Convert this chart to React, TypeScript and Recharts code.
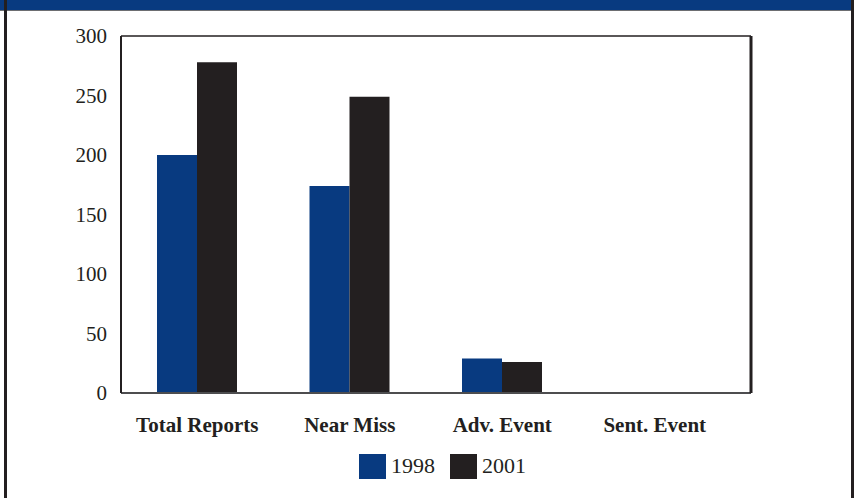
import React from "react";
import { BarChart, Bar, XAxis, YAxis, CartesianGrid, Legend } from "recharts";

const categories = ["Total Reports", "Near Miss", "Adv. Event", "Sent. Event"];
const series1998 = [200, 174, 29, 0];
const series2001 = [278, 249, 26, 0];
const yTicks = [0, 50, 100, 150, 200, 250, 300];
const seriesNames = ["1998", "2001"];
const seriesColors = ["#083a80", "#231f20"];

const data = categories.map((c, i) => ({
  name: c,
  s1998: series1998[i],
  s2001: series2001[i],
}));

const FONT = "'Liberation Serif', 'Times New Roman', serif";

const LegendContent = (props: any) => {
  const payload = props.payload || [];
  return (
    <div
      style={{
        display: "flex",
        justifyContent: "center",
        alignItems: "center",
        fontFamily: FONT,
        fontSize: 22,
        color: "#231f20",
        paddingLeft: 133,
      }}
    >
      {payload.map((p: any, i: number) => (
        <div key={i} style={{ display: "flex", alignItems: "center", marginRight: i === 0 ? 15 : 0 }}>
          <div style={{ width: 27, height: 25, background: p.color, marginRight: 5 }} />
          <span>{p.value}</span>
        </div>
      ))}
    </div>
  );
};

export default function App() {
  return (
    <div
      style={{
        position: "absolute",
        left: 0,
        top: 0,
        width: 854,
        height: 498,
        background: "#ffffff",
        overflow: "hidden",
      }}
    >
      <div
        style={{
          position: "absolute",
          left: 0,
          top: 0,
          width: 854,
          height: 10,
          background: "#083a80",
          borderBottom: "1px solid #6d6e71",
        }}
      />
      <div
        style={{
          position: "absolute",
          left: 4,
          top: 0,
          width: 3,
          height: 498,
          background: "#231f20",
        }}
      />
      <div
        style={{
          position: "absolute",
          left: 851,
          top: 0,
          width: 3,
          height: 498,
          background: "#231f20",
        }}
      />
      <div style={{ position: "absolute", left: 0, top: 0 }}>
        <BarChart
          width={854}
          height={498}
          data={data}
          margin={{ top: 36, right: 102, bottom: 15, left: 0 }}
          barGap={0}
          barSize={40}
        >
          <CartesianGrid
            vertical={false}
            stroke="#231f20"
            strokeWidth={1.5}
          />
          <XAxis
            dataKey="name"
            axisLine={{ stroke: "#4d4d4f", strokeWidth: 2 }}
            tickLine={false}
            tickMargin={18}
            height={60}
            interval={0}
            padding={{ left: 0, right: 20 }}
            tick={{ fontFamily: FONT, fontSize: 21, fontWeight: 700, fill: "#231f20" }}
          />
          <YAxis
            yAxisId="left"
            domain={[0, 300]}
            ticks={yTicks}
            width={121}
            axisLine={{ stroke: "#231f20", strokeWidth: 2 }}
            tickLine={false}
            tickMargin={8}
            tick={{ fontFamily: FONT, fontSize: 21, fill: "#231f20" }}
          />
          <YAxis
            yAxisId="right"
            orientation="right"
            domain={[0, 300]}
            ticks={yTicks}
            width={1}
            tick={false}
            tickLine={false}
            axisLine={{ stroke: "#231f20", strokeWidth: 3 }}
          />
          <Legend content={<LegendContent />} height={30} verticalAlign="bottom" />
          <Bar
            yAxisId="left"
            dataKey="s1998"
            name={seriesNames[0]}
            fill={seriesColors[0]}
            isAnimationActive={false}
          />
          <Bar
            yAxisId="left"
            dataKey="s2001"
            name={seriesNames[1]}
            fill={seriesColors[1]}
            isAnimationActive={false}
          />
        </BarChart>
      </div>
    </div>
  );
}
